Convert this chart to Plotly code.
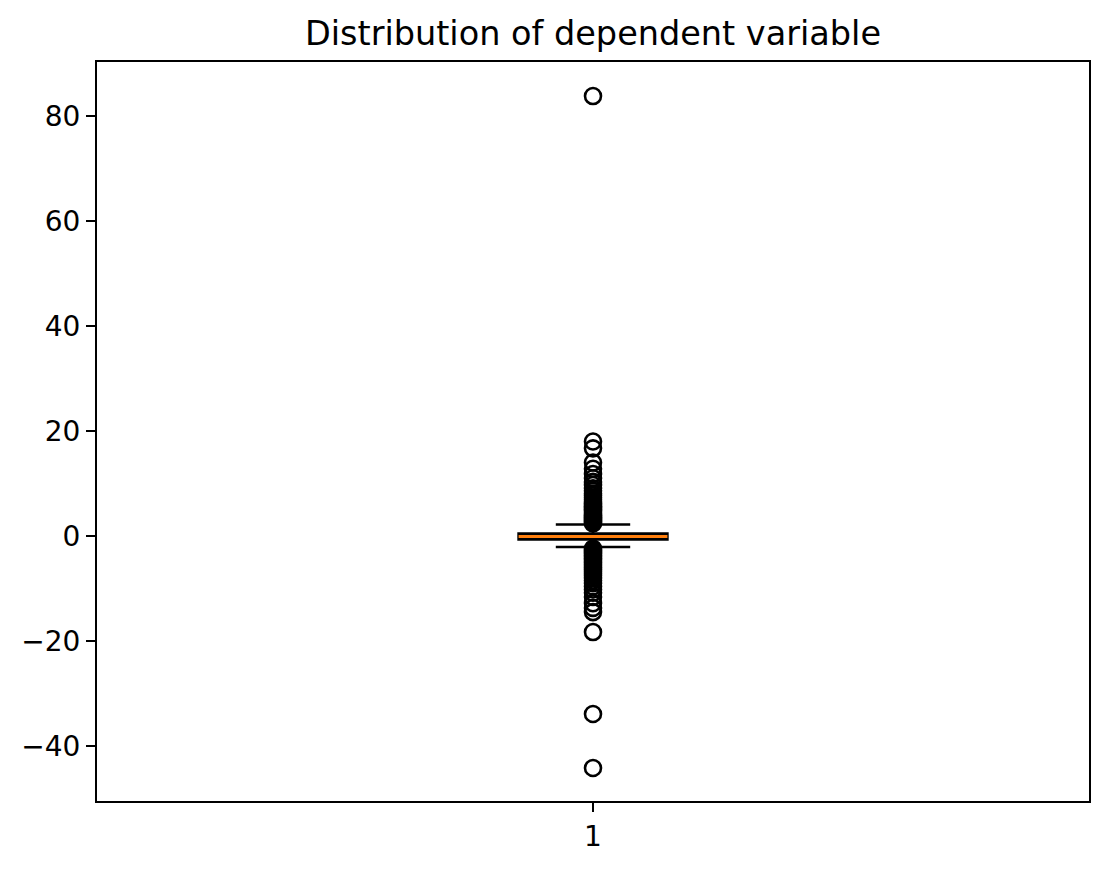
import plotly.graph_objects as go

# box statistics of the dependent variable
category = [1]
q1 = [-0.65]
median = [-0.1]
q3 = [0.45]
lower_whisker = [-2.1]
upper_whisker = [2.2]

# points beyond the whiskers
upper_outliers = [2.4, 2.6, 2.8, 3.0, 3.2, 3.4, 3.6, 3.9, 4.1, 4.4, 4.7, 5.0,
                  5.3, 5.6, 5.9, 6.2, 6.5, 6.9, 7.3, 7.7, 8.1, 8.6, 9.1, 9.7,
                  10.3, 11.0, 11.8, 12.8, 14.0, 16.7, 18.0, 83.8]
lower_outliers = [-2.4, -2.6, -2.8, -3.0, -3.2, -3.4, -3.7, -4.0, -4.3, -4.6,
                  -4.9, -5.2, -5.5, -5.9, -6.3, -6.7, -7.1, -7.5, -8.0, -8.5,
                  -9.0, -9.6, -10.2, -10.8, -11.6, -12.8, -13.7, -14.5, -18.3,
                  -33.9, -44.2]

outliers = upper_outliers + lower_outliers

font_family = 'DejaVu Sans'

fig = go.Figure()

fig.add_trace(go.Box(
    x=category, q1=q1, median=median, q3=q3,
    lowerfence=lower_whisker, upperfence=upper_whisker,
    width=0.15, whiskerwidth=0.5,
    line=dict(color='black', width=2.6),
    fillcolor='rgba(0,0,0,0)',
    boxpoints=False, hoverinfo='skip'))

# orange median line drawn on top of the black box
fig.add_trace(go.Box(
    x=category, q1=median, median=median, q3=median,
    lowerfence=median, upperfence=median,
    width=0.15, whiskerwidth=0,
    line=dict(color='#ff7f0e', width=3),
    fillcolor='rgba(0,0,0,0)',
    boxpoints=False, hoverinfo='skip'))

fig.add_trace(go.Scatter(
    x=category * len(outliers), y=outliers, mode='markers',
    marker=dict(symbol='circle', size=16, color='rgba(0,0,0,0)',
                line=dict(color='black', width=2.6)),
    hoverinfo='y'))

fig.update_layout(
    width=1110, height=869,
    showlegend=False,
    plot_bgcolor='white', paper_bgcolor='white',
    margin=dict(l=89, r=29, t=54, b=76),
    boxmode='overlay',
    font=dict(family=font_family, color='black', size=28),
    title=dict(text='Distribution of dependent variable', xref='paper', x=0.5,
               xanchor='center', yref='container', y=1 - 25 / 869, yanchor='middle',
               font=dict(family=font_family, size=33.5, color='black')),
    xaxis=dict(range=[0.5, 1.5], tickvals=category, ticktext=[str(c) for c in category],
               showgrid=False, zeroline=False, showline=True, mirror=True,
               linecolor='black', linewidth=2.2, ticks='outside', ticklen=9,
               tickwidth=2.2, tickcolor='black'),
    yaxis=dict(range=[-50.48, 90.29], tickvals=[-40, -20, 0, 20, 40, 60, 80],
               ticktext=['\u221240', '\u221220', '0', '20', '40', '60', '80'],
               showgrid=False, zeroline=False, showline=True, mirror=True,
               linecolor='black', linewidth=2.2, ticks='outside', ticklen=9,
               tickwidth=2.2, tickcolor='black'),
)

fig.write_html("out.html")
